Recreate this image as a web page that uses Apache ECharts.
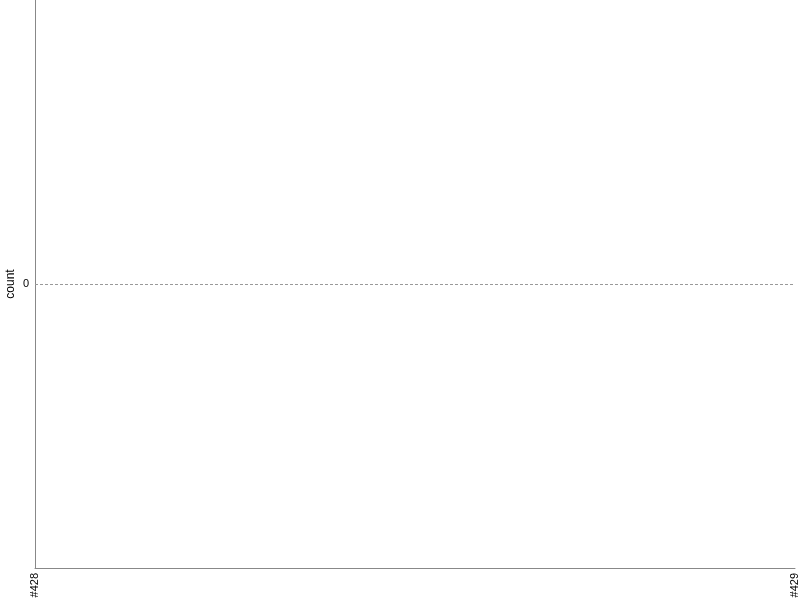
<!DOCTYPE html>
<html><head><meta charset="utf-8">
<script src="https://cdn.jsdelivr.net/npm/echarts@6/dist/echarts.min.js"></script>
<style>html,body{margin:0;padding:0;background:#fff}#c{width:800px;height:600px}</style>
</head><body><div id="c"></div>
<script>
const categories = ['#428', '#429'];
const counts = [0, 0];
const yTicks = [0];

const chart = echarts.init(document.getElementById('c'), null, {renderer: 'canvas'});
chart.setOption({
  animation: false,
  grid: {left: 35, right: 5, top: 0, bottom: 32, containLabel: false, outerBoundsMode: 'none'},
  xAxis: {
    type: 'category', data: categories, boundaryGap: false,
    axisLine: {onZero: false, lineStyle: {color: '#888', width: 1}},
    axisTick: {show: false},
    axisLabel: {rotate: 90, color: '#000', fontSize: 11, fontFamily: 'Liberation Sans, Arial, sans-serif', margin: 5, interval: 0}
  },
  yAxis: {
    type: 'value', min: -1, max: 1, interval: 1,
    name: 'count', nameLocation: 'middle', nameGap: 18, nameRotate: 90, nameMoveOverlap: false,
    nameTextStyle: {color: '#000', fontSize: 12, fontFamily: 'Liberation Sans, Arial, sans-serif'},
    axisLine: {show: true, onZero: false, lineStyle: {color: '#888', width: 1}},
    axisTick: {show: false},
    splitLine: {show: false},
    axisLabel: {color: '#000', fontSize: 11, fontFamily: 'Liberation Sans, Arial, sans-serif', margin: 6,
      formatter: v => yTicks.includes(v) ? String(v) : ''}
  },
  series: [{
    type: 'bar', data: counts, itemStyle: {color: '#4682b4'},
    markLine: {
      silent: true, symbol: 'none', label: {show: false},
      lineStyle: {color: '#999', type: [3, 2], width: 1},
      data: yTicks.map(v => ({yAxis: v}))
    }
  }]
});
</script></body></html>
